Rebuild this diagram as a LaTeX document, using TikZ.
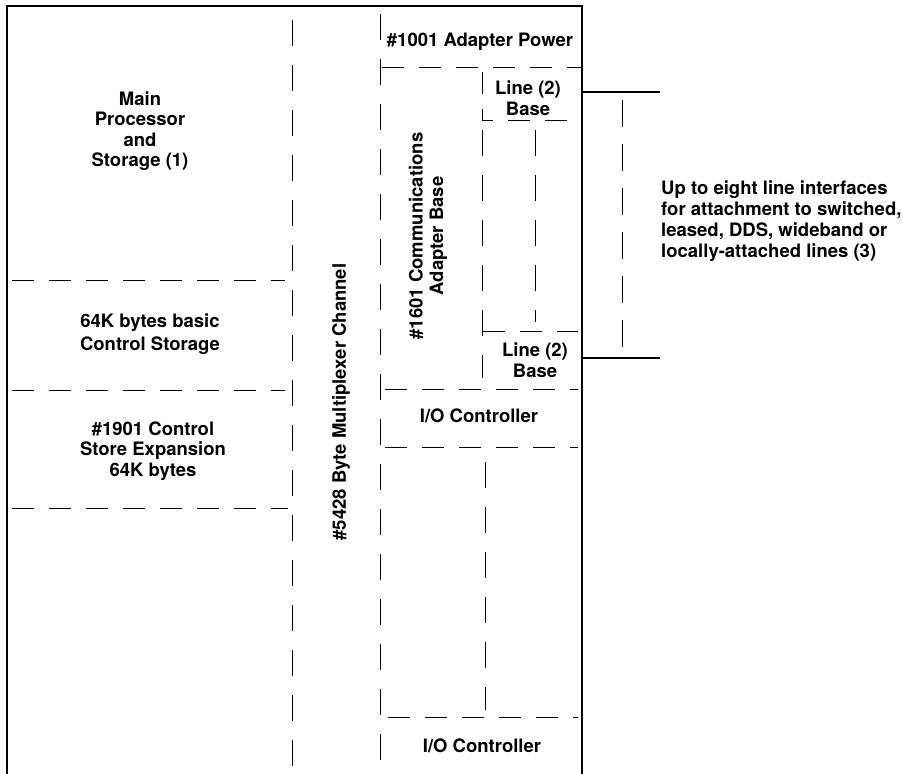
\documentclass[tikz,border=0pt]{standalone}
\usepackage{fontspec}
\setmainfont{TeX Gyre Heros}
\begin{document}
\begin{tikzpicture}[x=1pt,y=-1pt,
  lbl/.style={font=\bfseries\fontsize{18.5}{20.5}\selectfont, align=center, inner sep=0pt},
  lblL/.style={font=\bfseries\fontsize{18.5}{21}\selectfont, align=left, anchor=west, inner sep=0pt},
  frame/.style={line width=1.2pt},
  dsh/.style={line width=1pt, dash pattern=on 22pt off 15pt},
  dshv/.style={line width=1pt, dash pattern=on 26pt off 19pt}]
\useasboundingbox (0,0) rectangle (903,774);
% outer frame
\coordinate (tl) at (7,6);
\coordinate (tr) at (582,6);
\coordinate (bl) at (7,774);
\coordinate (br) at (582,774);
\draw[frame] (bl) -- (tl) -- (tr) -- (br);
% channel verticals
\draw[dshv] (292,20) -- (292,774);
\draw[dshv] (380,14) -- (380,774);
% left horizontals
\draw[dsh] (12,280) -- (285,280);
\draw[dsh] (12,390) -- (285,390);
\draw[dsh] (12,508) -- (288,508);
% adapter power
\draw[dsh] (382,67) -- (582,67);
% line base top
\draw[dsh] (482,72) -- (482,120) -- (582,120);
\draw[dshv] (535,130) -- (535,322);
\draw[dshv] (482,130) -- (482,378);
\draw[dsh] (483,331) -- (578,331);
% I/O controller
\draw[dsh] (385,389) -- (578,389);
\draw[dsh] (385,447) -- (578,447);
\draw[dshv] (485,462) -- (485,710);
\draw[dsh] (388,717) -- (578,717);
% external lines
\coordinate (ea) at (660,92);
\coordinate (eb) at (660,358);
\draw[frame] (582,92) -- (ea);
\draw[frame] (582,358) -- (eb);
\draw[line width=1pt, dash pattern=on 27pt off 17pt] (622,100) -- (622,352);
% texts
\node[lbl] (main) at (140,131) {Main\\Processor\\and\\Storage (1)};
\node[lbl, font=\bfseries\fontsize{18.5}{23}\selectfont] (cs) at (150,334) {64K bytes basic\\Control Storage};
\node[lbl] (cse) at (153,451) {\#1901 Control\\Store Expansion\\64K bytes};
\node[lbl, rotate=90] (chan) at (341,402) {\#5428 Byte Multiplexer Channel};
\node[lbl] (pow) at (480,42) {\#1001 Adapter Power};
\node[lbl, rotate=90] (cab) at (428,236) {\#1601 Communications\\Adapter Base};
\node[lbl] (lb1) at (528,98) {Line (2)\\Base};
\node[lbl] (lb2) at (535,360) {Line (2)\\Base};
\node[lbl] (io1) at (479,416) {I/O Controller};
\node[lbl] (io2) at (482,746) {I/O Controller};
\node[lblL] (up) at (661,221) {Up to eight line interfaces\\for attachment to switched,\\leased, DDS, wideband or\\locally-attached lines (3)};
\end{tikzpicture}
\end{document}
